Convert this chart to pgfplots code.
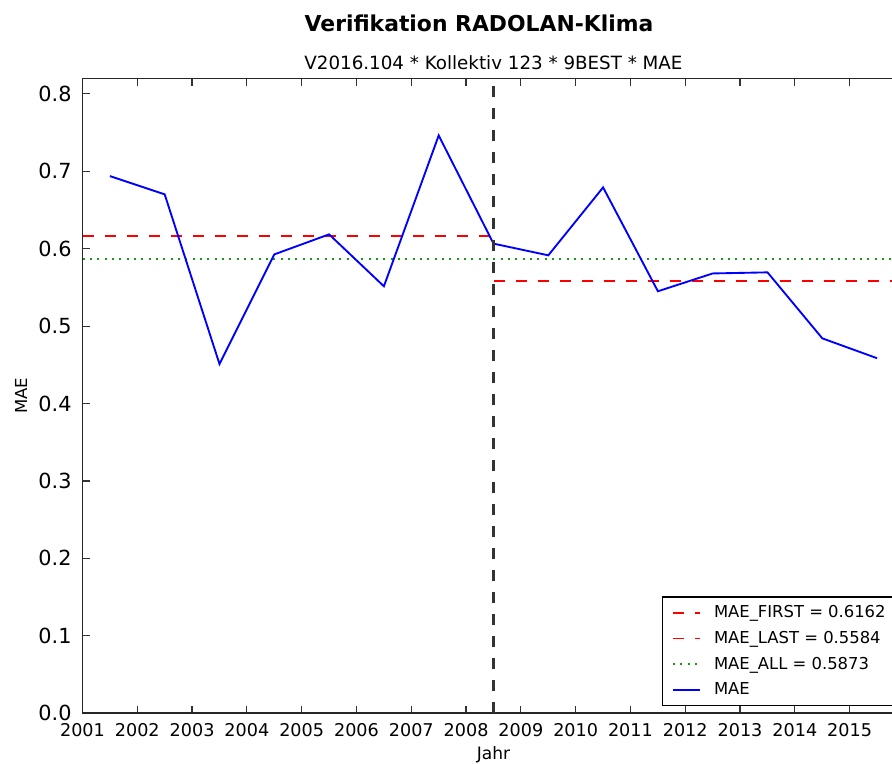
\documentclass[border=0pt]{standalone}
\usepackage{fontspec}
\setmainfont{DejaVu Sans}
\usepackage{pgfplots}
\pgfplotsset{compat=1.18}
\definecolor{mplgreen}{rgb}{0.1,0.6,0.1}
\begin{document}
\begin{tikzpicture}
\begin{axis}[
  at={(0,0)}, anchor=south west,
  scale only axis,
  width=616.5pt, height=476.25pt,
  xmin=2001, xmax=2016, ymin=0, ymax=0.82,
  clip mode=individual,
  axis line style={line width=1.2pt, black!85},
  tick align=inside,
  major tick length=5.5pt,
  tick style={line width=0.9pt, black!80},
  xtick={2001,2002,...,2015},
  ytick={0,0.1,...,0.8},
  xtick pos=both, ytick pos=left,
  /pgf/number format/assume math mode=true,
  x tick label style={/pgf/number format/1000 sep={}, font=\fontsize{13.2pt}{14pt}\selectfont, anchor=north, inner sep=0pt, yshift=-7.3pt},
  y tick label style={/pgf/number format/fixed, /pgf/number format/fixed zerofill, /pgf/number format/precision=1, font=\fontsize{15.6pt}{17pt}\selectfont, anchor=east, inner sep=0pt, xshift=-8pt},
  title={V2016.104 * Kollektiv 123 * 9BEST * MAE},
  title style={at={(axis description cs:0.5,1)}, anchor=base, inner sep=0pt, yshift=0.75pt, font=\fontsize{13.7pt}{15pt}\selectfont},
  xlabel={Jahr},
  xlabel style={at={(axis description cs:0.5,0)}, anchor=base, inner sep=0pt, yshift=-34.3pt, font=\fontsize{12.8pt}{14pt}\selectfont},
  ylabel={MAE},
  ylabel style={at={(axis description cs:-0.0748,0.5)}, anchor=center, inner sep=0pt, font=\fontsize{12.4pt}{14pt}\selectfont},
  legend style={at={(0.7046,0.0115)}, anchor=south west, draw=black, line width=1.1pt,
    font=\fontsize{12.3pt}{14pt}\selectfont, inner xsep=7.2pt, inner ysep=4pt,
    row sep=3.6pt, column sep=7.5pt, cells={anchor=west}, nodes={inner sep=2.5pt}},
  legend image code/.code={\draw[#1] (0pt,0pt) -- (20pt,0pt);},
]
\addplot[red, line width=1.4pt, dash pattern=on 8.25pt off 8.25pt] coordinates {(2001,0.6162) (2008.5,0.6162)};
\addlegendentry{MAE\_FIRST = 0.6162}
\addplot[red, line width=1.4pt, dash pattern=on 8.25pt off 8.25pt] coordinates {(2008.5,0.5584) (2016,0.5584)};
\addlegendentry{MAE\_LAST = 0.5584}
\addplot[mplgreen, line width=1.5pt, dash pattern=on 1.6pt off 3.9pt] coordinates {(2001,0.5873) (2016,0.5873)};
\addlegendentry{MAE\_ALL = 0.5873}
\addplot[blue, line width=1.4pt] coordinates {
(2001.5,0.6937) (2002.5,0.6701) (2003.5,0.4510) (2004.5,0.5926) (2005.5,0.6185)
(2006.5,0.5514) (2007.5,0.7462) (2008.5,0.6065) (2009.5,0.5914) (2010.5,0.6791)
(2011.5,0.5450) (2012.5,0.5680) (2013.5,0.5694) (2014.5,0.4842) (2015.5,0.4585)};
\addlegendentry{MAE}
\addplot[black!80, line width=1.6pt, dash pattern=on 8.5pt off 8pt, forget plot] coordinates {(2008.5,0) (2008.5,0.82)};
\end{axis}
\node[anchor=base, inner sep=0pt, font=\bfseries\fontsize{16.4pt}{18pt}\selectfont] at (297.4pt,511.7pt) {Verifikation RADOLAN-Klima};
\pgfresetboundingbox
\path[use as bounding box] (-61.875pt,-38pt) rectangle (607.125pt,534.975pt);
\end{tikzpicture}
\end{document}
